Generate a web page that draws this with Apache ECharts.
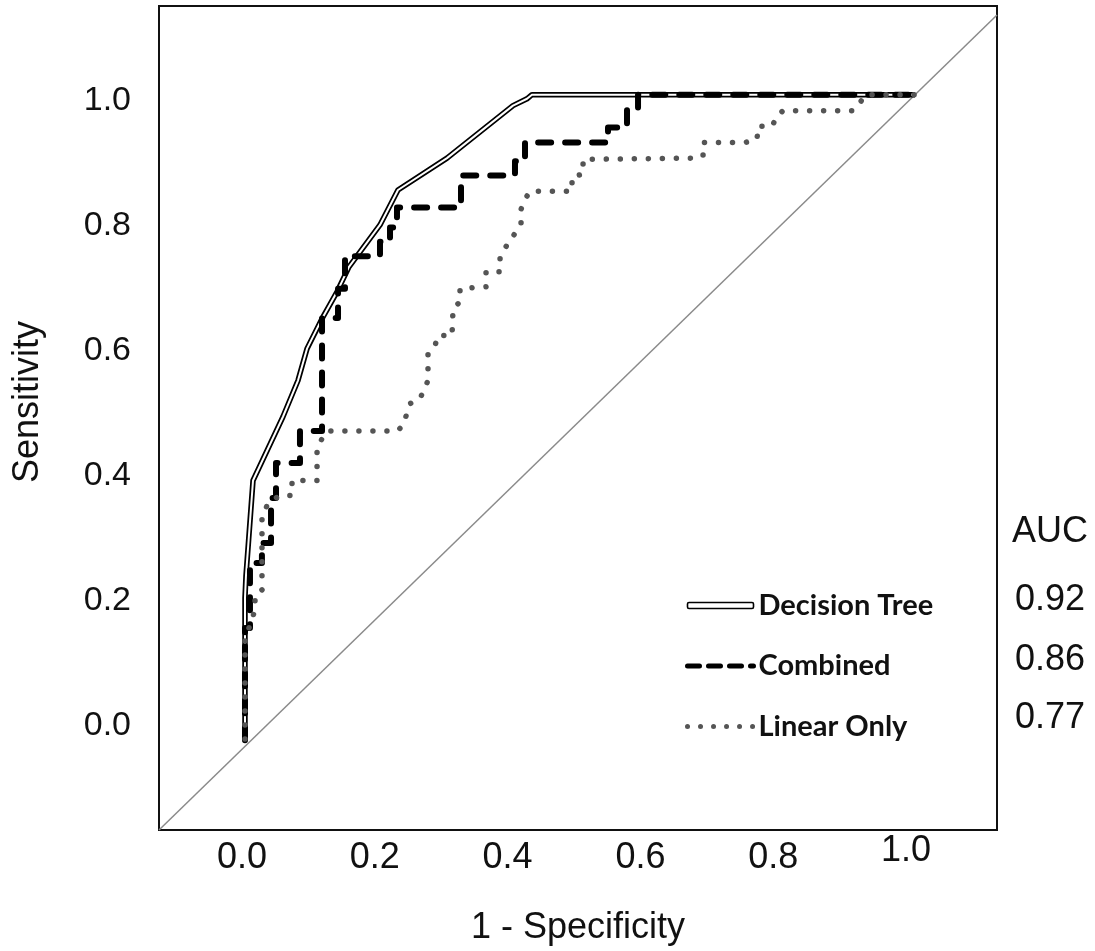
<!DOCTYPE html>
<html>
<head>
<meta charset="utf-8">
<script src="https://cdn.jsdelivr.net/npm/echarts@6/dist/echarts.min.js"></script>
<style>
html,body{margin:0;padding:0;background:#fff;}
#chart{width:1095px;height:951px;}
</style>
</head>
<body>
<div id="chart"></div>
<script>
// ---- data ----
const seriesNames = ['Decision Tree', 'Combined', 'Linear Only'];
const aucHeader = 'AUC';
const aucValues = ['0.92', '0.86', '0.77'];
const tickValues = [0, 0.2, 0.4, 0.6, 0.8, 1.0];

const decisionTree = [
  [0.0045,-0.024],[0.0045,0.204],[0.006,0.240],[0.010,0.297],[0.0166,0.392],
  [0.0617,0.494],[0.0843,0.552],[0.0979,0.603],[0.1205,0.651],[0.1431,0.694],
  [0.1611,0.734],[0.2078,0.801],[0.2349,0.857],[0.3087,0.908],[0.4081,0.992],
  [0.4292,1.003],[0.4367,1.0096],[1.0136,1.0096]
];
const combined = [
  [0.0045,-0.024],[0.0045,0.156],[0.012,0.156],[0.012,0.260],[0.030,0.260],[0.030,0.292],
  [0.0437,0.292],[0.0437,0.364],[0.0512,0.364],[0.0512,0.420],[0.0873,0.420],[0.0873,0.471],
  [0.1205,0.471],[0.1205,0.652],[0.1446,0.652],[0.1446,0.699],[0.1551,0.699],[0.1551,0.751],
  [0.2078,0.751],[0.2078,0.774],[0.2229,0.774],[0.2229,0.797],[0.2334,0.797],[0.2334,0.829],
  [0.3298,0.829],[0.3298,0.880],[0.4111,0.880],[0.4111,0.903],[0.4262,0.903],[0.4262,0.933],
  [0.5512,0.933],[0.5512,0.957],[0.5798,0.957],[0.5798,0.986],[0.5964,0.986],[0.5964,1.0096],
  [1.0136,1.0096]
];
const linearOnly = [
  [0.0045,-0.022],[0.0045,0.140],[0.012,0.160],[0.0196,0.185],[0.0196,0.207],[0.0301,0.217],
  [0.0301,0.332],[0.0392,0.356],[0.0572,0.368],[0.0753,0.368],[0.0753,0.392],[0.1130,0.392],
  [0.1130,0.443],[0.1205,0.459],[0.1280,0.471],[0.2334,0.471],[0.2425,0.480],[0.2530,0.515],
  [0.2681,0.523],[0.2801,0.552],[0.2801,0.595],[0.2907,0.608],[0.2952,0.624],[0.3163,0.624],
  [0.3178,0.667],[0.3283,0.678],[0.3283,0.699],[0.3675,0.702],[0.3675,0.726],[0.3886,0.726],
  [0.3886,0.748],[0.3961,0.764],[0.4127,0.790],[0.4202,0.804],[0.4202,0.826],[0.4262,0.842],
  [0.4337,0.855],[0.4970,0.855],[0.4970,0.879],[0.5136,0.882],[0.5136,0.906],[0.6792,0.908],
  [0.6943,0.911],[0.6943,0.933],[0.7575,0.933],[0.7756,0.938],[0.7771,0.959],[0.7982,0.959],
  [0.8057,0.975],[0.8148,0.984],[0.9202,0.984],[0.9307,0.997],[0.9398,1.0096],[1.0136,1.0096]
];
const referenceLine = [[-0.125,-0.1675],[1.137,1.137]];

// ---- chart ----
const chart = echarts.init(document.getElementById('chart'), null, {renderer:'canvas'});
const sans = '"Liberation Sans", Arial, sans-serif';
const narrow = '"Liberation Sans Narrow", "Liberation Sans", Arial, sans-serif';

const graphics = [{
  type:'text', x:1050, y:532,
  style:{text:aucHeader, font:'36px ' + sans, fill:'#111', align:'center', verticalAlign:'middle'}
}];
const aucY = [600, 660, 718];
aucValues.forEach((v, i) => {
  graphics.push({
    type:'text', x:1050, y:aucY[i],
    style:{text:v, font:'36px ' + sans, fill:'#111', align:'center', verticalAlign:'middle'}
  });
});

chart.setOption({
  animation:false,
  backgroundColor:'#fff',
  grid:{left:159, top:6, width:838, height:827, show:true, borderColor:'#111', borderWidth:2, backgroundColor:'transparent'},
  xAxis:{
    type:'value', min:-0.125, max:1.137,
    name:'1 - Specificity', nameLocation:'middle', nameGap:80,
    nameTextStyle:{fontFamily:narrow, fontSize:36, color:'#111'},
    axisLine:{show:false}, axisTick:{show:false}, splitLine:{show:false},
    axisLabel:{
      customValues:tickValues, margin:3,
      formatter:v => (v === 1 ? '{hi|' : '{n|') + v.toFixed(1) + '}',
      rich:{
        n:{fontFamily:narrow, fontSize:36, color:'#111', padding:[7,0,0,0]},
        hi:{fontFamily:narrow, fontSize:36, color:'#111', padding:[0,0,0,0]}
      }
    }
  },
  yAxis:{
    type:'value', min:-0.1675, max:1.1515,
    name:'Sensitivity', nameLocation:'middle', nameGap:113, nameRotate:90,
    nameTextStyle:{fontFamily:sans, fontSize:36, color:'#111', padding:[0,0,0,32]},
    axisLine:{show:false}, axisTick:{show:false}, splitLine:{show:false},
    axisLabel:{customValues:tickValues, margin:28, fontFamily:sans, fontSize:34, color:'#111',
      formatter:v => v.toFixed(1)}
  },
  legend:{
    orient:'vertical', left:680, top:586, itemWidth:66, itemHeight:6, itemGap:31.5,
    selectedMode:false,
    textStyle:{fontFamily:'Lato, "Open Sans", sans-serif', fontWeight:'bold', fontSize:29, color:'#111'},
    data:[
      {name:seriesNames[0], icon:'roundRect', itemStyle:{color:'#fff', borderColor:'#000', borderWidth:1.6}},
      {name:seriesNames[1], itemStyle:{color:'transparent', opacity:0, borderWidth:0},
        lineStyle:{width:5, color:'#000', type:[12,9], cap:'round'}},
      {name:seriesNames[2], itemStyle:{color:'transparent', opacity:0, borderWidth:0},
        lineStyle:{width:5, color:'#555', type:[0.01,13], cap:'round'}}
    ]
  },
  graphic:graphics,
  series:[
    {type:'line', name:'reference', data:referenceLine, symbol:'none', silent:true, z:1,
      lineStyle:{color:'#8a8a8a', width:1.5}},
    {type:'line', name:seriesNames[0], data:decisionTree, symbol:'none', z:2,
      lineStyle:{color:'#000', width:5.5, join:'round'}},
    {type:'line', name:seriesNames[0] + ' ', data:decisionTree, symbol:'none', z:3,
      lineStyle:{color:'#fff', width:2, join:'round'}},
    {type:'line', name:seriesNames[1], data:combined, symbol:'none', z:4,
      lineStyle:{color:'#000', width:6, type:[13,14], cap:'round', join:'round'}},
    {type:'line', name:seriesNames[2], data:linearOnly, symbol:'none', z:5,
      lineStyle:{color:'#555', width:5.5, type:[0.01,14], cap:'round', join:'round'}}
  ]
});
</script>
</body>
</html>
